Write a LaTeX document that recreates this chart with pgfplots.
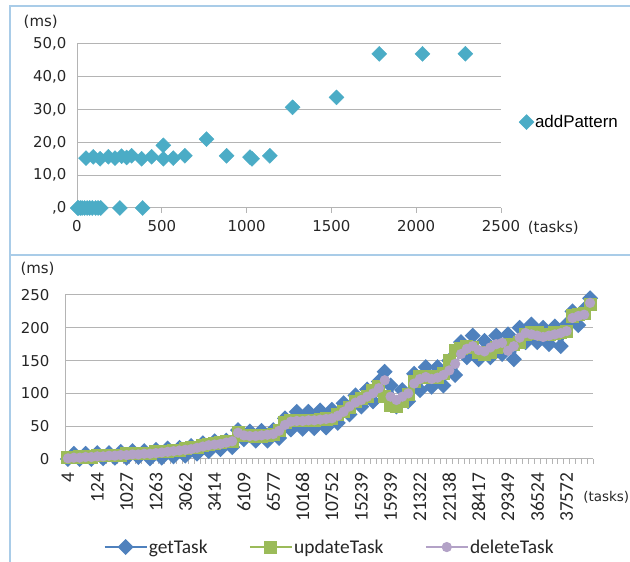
\documentclass[border=0pt]{standalone}
\usepackage{pgfplots}
\pgfplotsset{compat=1.18}
\usepackage{pgfplotstable}
\usepackage{fontspec}
\newfontfamily\dv{DejaVu Sans}
\newfontfamily\ls{Liberation Sans}
\newfontfamily\cb{Carlito}
\definecolor{cTeal}{HTML}{4BACC6}
\definecolor{cBlue}{HTML}{4F81BD}
\definecolor{cGreen}{HTML}{9BBB59}
\definecolor{cPurple}{HTML}{B3A2C7}
\definecolor{gridgray}{HTML}{B4B4B4}
\definecolor{framec}{HTML}{A9CCE8}

\pgfplotstableread{
x y
4 0
10 0
20 0
30 0
45 0
60 0
75 0
90 0
110 0
124 0
140 0
253 0
387 0
53 15.2
96 15.6
136 15.0
185 15.6
224 15.2
263 15.8
293 15.4
322 15.9
381 15.0
440 15.6
509 15.0
509 19.1
568 15.2
636 15.9
764 21.0
882 15.9
1020 15.5
1032 15.0
1137 15.9
1271 30.7
1530 33.7
1782 47.0
2037 47.0
2290 47.0
}\addpattern

\pgfplotstableread{
i del upd get
0 1 2 0
1 2 2 8
2 2 3 0
3 3 3 8
4 3 3 0
5 4 5 9
6 4 5 1
7 5 5 9
8 5 6 2
9 6 6 11
10 6 8 2
11 7 8 12
12 7 8 3
13 8 9 12
14 8 9 1
15 9 11 14
16 10 11 2
17 11 12 16
18 12 13 4
19 13 13 17
20 14 16 5
21 15 17 20
22 17 18 8
23 19 21 24
24 21 22 12
25 22 24 27
26 23 25 15
27 25 26 28
28 27 27 18
29 40 40 44
30 36 36 30
31 35 36 42
32 35 35 28
33 36 35 43
34 37 36 28
35 38 37 44
36 43 44 32
37 52 56 62
38 57 58 45
39 58 58 72
40 58 58 46
41 59 59 72
42 59 59 47
43 60 60 74
44 61 61 48
45 62 62 75
46 66 68 55
47 72 72 85
48 80 78 68
49 86 88 97
50 90 92 80
51 95 95 106
52 100 105 88
53 108 110 118
54 120 95 133
55 95 82 112
56 90 80 80
57 95 88 105
58 100 98 88
59 115 118 130
60 122 125 105
61 125 126 140
62 122 124 110
63 124 125 140
64 128 130 112
65 135 150 150
66 145 165 128
67 160 168 178
68 168 172 155
69 172 170 188
70 166 162 152
71 164 160 180
72 170 162 155
73 175 170 188
74 177 172 160
75 165 175 190
76 172 175 152
77 185 178 200
78 192 190 178
79 190 192 205
80 188 192 178
81 186 190 200
82 188 190 175
83 190 192 202
84 192 193 172
85 195 195 205
86 215 218 225
87 218 220 204
88 220 222 228
89 238 236 245
}\tasks

\begin{document}
\begin{tikzpicture}[x=1bp,y=1bp]
\useasboundingbox (0,0) rectangle (630,562);
% panel frames
\draw[framec, line width=1.6bp] (10,0) -- (10,556) -- (630,556);
\draw[framec, line width=1.6bp] (10,307) -- (630,307);

% ---------- top chart ----------
\begin{axis}[
  at={(77bp,354bp)}, anchor=south west,
  width=424bp, height=164bp, scale only axis,
  xmin=0, xmax=2500, ymin=0, ymax=50,
  axis lines=left, axis line style={-, draw=gridgray, line width=1bp},
  xtick={0,500,...,2500}, xticklabels={0,500,1000,1500,2000,2500},
  ytick={0,10,...,50}, yticklabels={{,0},{10,0},{20,0},{30,0},{40,0},{50,0}},
  ymajorgrids, grid style={gridgray, line width=1bp},
  tick align=outside, major tick length=5bp,
  x tick style={draw=gridgray, line width=1bp},
  y tick style={draw=none},
  tick label style={font=\dv\fontsize{15}{18}\selectfont, text=black!85},
  xticklabel style={yshift=-4bp},
  yticklabel style={xshift=-2bp},
  legend style={at={(1.035,0.524)}, anchor=west, draw=none, fill=none,
    font=\ls\fontsize{17}{20}\selectfont, nodes={inner sep=1bp}},
  clip=false,
]
\addplot[only marks, mark=square*, mark size=5.3bp,
  mark options={rotate=45, fill=cTeal, draw=cTeal}] table[x=x,y=y] {\addpattern};
\addlegendentry{addPattern}
\node[anchor=west, font=\dv\fontsize{15}{18}\selectfont, text=black!85] at (rel axis cs:-0.134,1.134) {(ms)};
\node[anchor=west, font=\dv\fontsize{15}{18}\selectfont, text=black!85] at (rel axis cs:1.055,-0.122) {(tasks)};
\end{axis}

% ---------- bottom chart ----------
\begin{axis}[
  at={(65bp,103bp)}, anchor=south west,
  width=528bp, height=164bp, scale only axis,
  xmin=-0.5, xmax=89.5, ymin=0, ymax=250,
  axis lines=left, axis line style={-, draw=gridgray, line width=1bp},
  xtick={0,5,...,85},
  xticklabels={4,124,1027,1263,3062,3414,6109,6577,10168,10752,15239,15939,21322,22138,28417,29349,36524,37572},
  minor xtick={-0.5,0.5,...,89.5},
  ytick={0,50,...,250}, yticklabels={0,50,100,150,200,250},
  ymajorgrids, grid style={gridgray, line width=1bp},
  tick align=outside, major tick length=0bp, minor tick length=5bp,
  major x tick style={draw=none},
  minor x tick style={draw=gridgray, line width=0.8bp},
  y tick style={draw=none},
  yticklabel style={font=\dv\fontsize{15}{18}\selectfont, text=black!85, xshift=-12bp},
  xticklabel style={font=\cb\fontsize{19.5}{22}\selectfont, text=black!85, rotate=90, anchor=east, yshift=0bp, xshift=-10bp},
  legend style={at={(0.5,-0.537)}, anchor=center, draw=none, fill=none,
    legend columns=3, font=\cb\fontsize{19.5}{22}\selectfont, text=black!85,
    nodes={inner sep=1bp},
    /tikz/every even column/.append style={column sep=40bp}},
  legend image code/.code={\draw[mark repeat=2, mark phase=2, #1] plot coordinates {(0bp,0bp) (21bp,0bp) (42bp,0bp)};},
  clip=false,
]
\addplot[cBlue, line width=2.5bp, mark=square*, mark size=4.4bp,
  mark options={rotate=45, fill=cBlue, draw=cBlue}] table[x=i,y=get] {\tasks};
\addlegendentry{getTask}
\addplot[cGreen, line width=2.5bp, mark=square*, mark size=5.3bp,
  mark options={fill=cGreen, draw=cGreen}] table[x=i,y=upd] {\tasks};
\addlegendentry{updateTask}
\addplot[cPurple, line width=2.5bp, mark=*, mark size=3.8bp,
  mark options={fill=cPurple, draw=cPurple}] table[x=i,y=del] {\tasks};
\addlegendentry{deleteTask}
\node[anchor=west, font=\dv\fontsize{15}{18}\selectfont, text=black!85] at (rel axis cs:-0.0909,1.159) {(ms)};
\node[anchor=west, font=\dv\fontsize{13.5}{16}\selectfont, text=black!85] at (rel axis cs:0.975,-0.232) {(tasks)};
\end{axis}
\end{tikzpicture}
\end{document}
